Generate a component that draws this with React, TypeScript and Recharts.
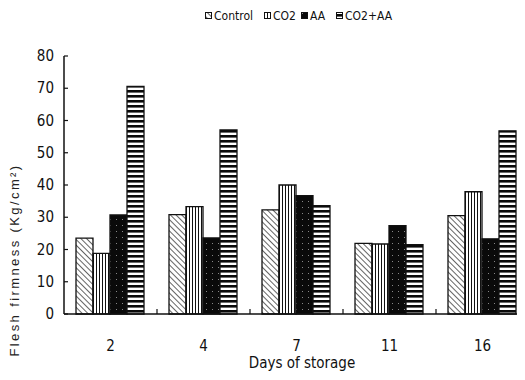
import React from "react"
import {
    BarChart,
    Bar,
    XAxis,
    YAxis,
} from "recharts"

const DAYS = ["2", "4", "7", "11", "16"]
const CONTROL = [23.5, 30.8, 32.3, 21.9, 30.5]
const CO2 = [18.8, 33.3, 40.0, 21.7, 37.9]
const AA = [30.7, 23.6, 36.7, 27.4, 23.3]
const CO2_AA = [70.6, 57.1, 33.6, 21.5, 56.8]
const Y_TICKS = [0, 10, 20, 30, 40, 50, 60, 70, 80]

const SERIES = [
    { key: "control", name: "Control", fill: "url(#patControl)" },
    { key: "co2", name: "CO2", fill: "url(#patCo2)" },
    { key: "aa", name: "AA", fill: "url(#patAa)" },
    { key: "co2aa", name: "CO2+AA", fill: "url(#patCo2Aa)" },
]

const data = DAYS.map((d, i) => ({
    day: d,
    control: CONTROL[i],
    co2: CO2[i],
    aa: AA[i],
    co2aa: CO2_AA[i],
}))

const W = 530
const H = 380
const Y_AXIS_W = 64
const X_AXIS_H = 66
const M = { top: 56, right: 1, bottom: 0, left: 0 }
const PLOT_BOTTOM = H - X_AXIS_H
const HALF_BAND = (W - Y_AXIS_W - M.right) / DAYS.length / 2

const FONT = "'Liberation Sans Narrow', 'DejaVu Sans Condensed', 'Arial Narrow', sans-serif"

function Patterns() {
    return (
        <defs>
            <pattern id="patControl" width="4" height="4" patternUnits="userSpaceOnUse" patternTransform="rotate(-45)">
                <rect width="4" height="4" fill="#fff" />
                <line x1="0" y1="0" x2="0" y2="4" stroke="#111" strokeWidth="1.3" />
            </pattern>
            <pattern id="patCo2" width="3" height="3" patternUnits="userSpaceOnUse">
                <rect width="3" height="3" fill="#fff" />
                <line x1="0.5" y1="0" x2="0.5" y2="3" stroke="#111" strokeWidth="1" />
            </pattern>
            <pattern id="patAa" width="6" height="6" patternUnits="userSpaceOnUse">
                <rect width="6" height="6" fill="#0a0a0a" />
                <rect x="2" y="3" width="1" height="1" fill="#888" />
            </pattern>
            <pattern id="patCo2Aa" width="5" height="5" patternUnits="userSpaceOnUse">
                <rect width="5" height="5" fill="#fff" />
                <rect y="0" width="5" height="2.6" fill="#0a0a0a" />
            </pattern>
        </defs>
    )
}

const YTick = (props: any) => {
    const { y, payload } = props
    return (
        <g>
            <line x1={Y_AXIS_W} y1={y} x2={Y_AXIS_W + 4} y2={y} stroke="#111" strokeWidth={1.2} />
            <text x={Y_AXIS_W - 10} y={y} dy={5} textAnchor="end" fontSize={15} fontFamily={FONT} fill="#111">
                {payload.value}
            </text>
        </g>
    )
}

const XTick = (props: any) => {
    const { x, payload, index } = props
    return (
        <g>
            {index < DAYS.length - 1 && (
                <line x1={x + HALF_BAND} y1={PLOT_BOTTOM} x2={x + HALF_BAND} y2={PLOT_BOTTOM - 5} stroke="#111" strokeWidth={1.2} />
            )}
            <text x={x} y={PLOT_BOTTOM + 37} textAnchor="middle" fontSize={15} fontFamily={FONT} fill="#111">
                {payload.value}
            </text>
        </g>
    )
}

// legend drawn outside the chart so it does not push the plot down
function ChartLegend() {
    return (
        <svg width={W} height={24} style={{ position: "absolute", top: 4, left: 0 }}>
            <Patterns />
            {SERIES.map((s, i) => {
                const x0 = [205, 264, 301, 336][i]
                return (
                    <g key={s.key}>
                        <rect x={x0 + 0.5} y={8.5} width={6} height={6} fill={s.fill} stroke="#111" />
                        <text x={x0 + 9} y={16} fontSize={12} fontFamily={FONT} fill="#111">{s.name}</text>
                    </g>
                )
            })}
        </svg>
    )
}

export default function App() {
    // the plot runs a little past the right edge of the window, as in the original
    return (
        <div style={{ margin: -8, width: 525, height: H, background: "#fff", position: "relative", overflow: "hidden" }}>
            <BarChart width={W} height={H} data={data} margin={M} barGap={0} barCategoryGap={12}>
                <Patterns />
                <XAxis
                    dataKey="day"
                    height={X_AXIS_H}
                    axisLine={{ stroke: "#111", strokeWidth: 1.5 }}
                    tickLine={false}
                    tick={<XTick />}
                    interval={0}
                />
                <YAxis
                    domain={[0, 80]}
                    ticks={Y_TICKS}
                    axisLine={{ stroke: "#111", strokeWidth: 1.5 }}
                    tickLine={false}
                    tick={<YTick />}
                    width={Y_AXIS_W}
                />
                {SERIES.map((s) => (
                    <Bar key={s.key} dataKey={s.key} name={s.name} fill={s.fill} stroke="#111" strokeWidth={1.3} isAnimationActive={false} />
                ))}
                <text x={302} y={368} textAnchor="middle" fontSize={15} fontFamily={FONT} fill="#111">
                    Days of storage
                </text>
                <text x={19} y={260} transform="rotate(-90 19 260)" textAnchor="middle" fontSize={13} letterSpacing={2.4} fontFamily="'Liberation Sans', Arial, sans-serif" fill="#222">
                    Flesh firmness (Kg/cm²)
                </text>
            </BarChart>
            <ChartLegend />
        </div>
    )
}
